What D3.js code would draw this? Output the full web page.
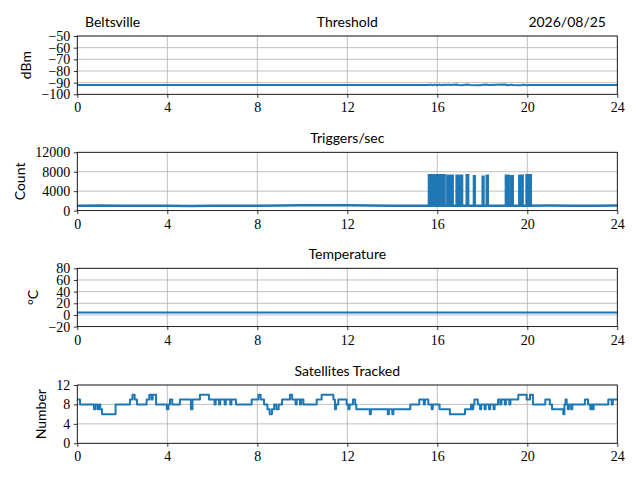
<!DOCTYPE html>
<html>
<head>
<meta charset="utf-8">
<script src="https://cdn.jsdelivr.net/npm/d3@7"></script>
<style>
body{margin:0;background:#fff}
svg{display:block}
.ttl{font-family:Lato,"Open Sans",sans-serif;font-size:14px;fill:#000}
</style>
</head>
<body>
<div id="chart"></div>
<script>
var site = "Beltsville";
var day = "2026/08/25";
var hourTicks = [0, 4, 8, 12, 16, 20, 24];

// threshold (dBm)
var threshHours = [0, 15.6, 15.7, 15.8, 15.9, 16.0, 16.1, 16.2, 16.3, 16.35, 16.5, 16.55, 16.9, 16.95, 17.1, 17.15, 17.4, 17.45, 17.9, 17.95, 18.2, 18.25, 19.05, 19.1, 19.3, 19.35, 19.75, 19.8, 20.0, 20.1, 24];
var threshDbm = [-92, -92, -91.7, -92.3, -91.7, -92.3, -91.7, -92.3, -91.7, -92, -91.7, -92, -91.7, -92, -92.3, -92, -91.7, -92, -92.3, -92, -91.7, -92, -91.7, -92.3, -91.7, -92, -92.3, -91.7, -92.3, -92, -92];

// triggers per second, quiet level
var trigHours = [0, 1, 2, 3, 4, 5, 6, 7, 8, 9, 10, 11, 12, 13, 14, 15, 16, 17, 18, 19, 20, 21, 22, 23, 24];
var trigCount = [1000, 1050, 980, 1020, 1000, 960, 1010, 990, 1000, 1050, 1080, 1120, 1100, 1060, 1020, 1000, 980, 1000, 990, 1010, 1000, 1030, 1000, 1020, 1050];
// bursts: start hour, end hour, peak count
var burstStart = [15.6, 16.42, 16.83, 17.28, 17.6, 17.99, 18.17, 19.02, 19.26, 19.62, 19.94];
var burstEnd   = [16.35, 16.71, 17.13, 17.4, 17.69, 18.08, 18.27, 19.2, 19.38, 19.82, 20.18];
var burstPeak  = [7400, 7300, 7300, 7400, 7200, 7100, 7300, 7300, 7200, 7300, 7400];

// temperature (C)
var tempHours = [0, 6, 12, 18, 24];
var tempC = [4, 4, 4, 4, 4];

// satellites tracked (step changes)
var satHours = [0, 0.12, 0.74, 0.8, 0.9, 0.98, 1.02, 1.1, 1.7, 2.34, 2.45, 2.55, 2.65, 3.08, 3.2, 3.3, 3.35, 3.5, 3.98, 4.05, 4.12, 4.22, 4.56, 5.05, 5.12, 5.45, 5.85,
  6.1, 6.15, 6.3, 6.35, 6.55, 6.6, 6.8, 6.85, 7.05, 7.75, 8.05, 8.15, 8.3, 8.45, 8.55, 8.65, 8.75, 8.85, 8.95, 9.1, 9.45, 9.55, 9.7, 9.75, 9.9, 9.95, 10.05,
  10.64, 10.86, 11.38, 11.45, 11.5, 11.6, 11.97, 12.05, 12.1, 12.25, 12.35, 12.4, 13.0, 13.05, 13.8, 13.85, 14.0, 14.05, 14.8, 15.2, 15.4, 15.45, 15.6,
  15.75, 15.8, 16.1, 16.56, 17.23, 17.5, 17.55, 17.6, 17.65, 17.8, 17.9, 17.95, 18.1, 18.15, 18.3, 18.35, 18.5, 18.55, 18.7, 18.8, 18.85, 19.0, 19.05,
  19.2, 19.25, 19.6, 19.97, 20.12, 20.25, 20.8, 21.0, 21.1, 21.6, 21.65, 21.7, 21.75, 21.8, 21.85, 21.95, 22.0, 22.56, 22.7, 22.8, 22.85, 22.9, 22.95,
  23.6, 23.75, 23.8, 24];
var satCount = [9, 8, 7, 8, 7, 8, 7, 6, 8, 9, 10, 9, 8, 9, 10, 9, 10, 8, 7, 8, 9, 8, 9, 7, 9, 10, 9,
  8, 9, 8, 9, 8, 9, 8, 9, 8, 9, 10, 9, 8, 7, 6, 7, 8, 7, 8, 9, 10, 9, 8, 9, 8, 9, 8,
  9, 10, 9, 7, 8, 9, 8, 7, 8, 9, 8, 7, 6, 7, 6, 7, 6, 7, 8, 9, 8, 9, 8,
  7, 8, 7, 6, 7, 8, 7, 8, 9, 8, 7, 8, 7, 8, 7, 8, 7, 8, 9, 8, 9, 8, 9,
  8, 9, 10, 9, 10, 8, 9, 8, 7, 6, 8, 9, 8, 7, 8, 7, 8, 9, 8, 7, 8, 7, 8,
  9, 8, 9, 9];

var W = 640, H = 480;
var left = 77.3, right = 617.3, panelH = 58.3;
var tops = [36, 152.3, 268.3, 385];
var blue = "#1f77b4";
var serif = "'Liberation Serif', 'DejaVu Serif', serif";

var svg = d3.select("#chart").append("svg").attr("width", W).attr("height", H);
var x = d3.scaleLinear().domain([0, 24]).range([left, right]);

var panels = [
  {title: "Threshold", label: "dBm", domain: [-100, -50], ticks: [-100, -90, -80, -70, -60, -50]},
  {title: "Triggers/sec", label: "Count", domain: [0, 12000], ticks: [0, 4000, 8000, 12000]},
  {title: "Temperature", label: "\u00B0C", domain: [-20, 80], ticks: [-20, 0, 20, 40, 60, 80]},
  {title: "Satellites Tracked", label: "Number", domain: [0, 12], ticks: [0, 4, 8, 12]}
];

var ys = [];
panels.forEach(function(p, i) {
  var top = tops[i];
  var y = d3.scaleLinear().domain(p.domain).range([top + panelH, top]);
  ys.push(y);
  var g = svg.append("g").attr("class", "panel" + i);

  // grid
  g.selectAll(".vg").data(hourTicks).enter().append("line")
    .attr("x1", function(d) { return x(d); }).attr("x2", function(d) { return x(d); })
    .attr("y1", top).attr("y2", top + panelH)
    .attr("stroke", "#b0b0b0").attr("stroke-width", 0.8);
  g.selectAll(".hg").data(p.ticks).enter().append("line")
    .attr("x1", left).attr("x2", right)
    .attr("y1", function(d) { return y(d); }).attr("y2", function(d) { return y(d); })
    .attr("stroke", "#b0b0b0").attr("stroke-width", 0.8);

  // axes
  var xa = g.append("g").attr("transform", "translate(0," + (top + panelH) + ")")
    .call(d3.axisBottom(x).tickValues(hourTicks).tickSize(3.5).tickPadding(3.5).tickFormat(d3.format("d")));
  var ya = g.append("g").attr("transform", "translate(" + left + ",0)")
    .call(d3.axisLeft(y).tickValues(p.ticks).tickSize(3.5).tickPadding(3.5).tickFormat(d3.format("d")));
  [xa, ya].forEach(function(a) {
    a.attr("font-family", serif).attr("font-size", 14);
    a.select(".domain").remove();
    a.selectAll(".tick line").attr("stroke", "#000").attr("stroke-width", 0.8);
    a.selectAll(".tick text").attr("font-family", serif).attr("font-size", 14).attr("fill", "#000");
  });
  xa.selectAll(".tick text").attr("dy", "0.8em");

  // title
  g.append("text").attr("class", "ttl").attr("x", (left + right) / 2).attr("y", top - 9)
    .attr("text-anchor", "middle").text(p.title);

  // y label left of tick labels
  var bb = ya.node().getBBox();
  g.append("text").attr("class", "ttl")
    .attr("transform", "translate(" + (left + bb.x - 10) + "," + (top + panelH / 2) + ") rotate(-90)")
    .attr("text-anchor", "middle").text(p.label);
});

svg.append("text").attr("class", "ttl").attr("x", 85).attr("y", tops[0] - 9).text(site);
svg.append("text").attr("class", "ttl").attr("x", 606).attr("y", tops[0] - 9)
  .attr("text-anchor", "end").text(day);

function drawLine(xs, vs, y, curve, w) {
  var line = d3.line().x(function(d) { return x(d[0]); }).y(function(d) { return y(d[1]); }).curve(curve);
  svg.append("path").datum(d3.zip(xs, vs)).attr("d", line)
    .attr("fill", "none").attr("stroke", blue).attr("stroke-width", w).attr("stroke-linejoin", "round");
}

drawLine(threshHours, threshDbm, ys[0], d3.curveLinear, 2);

// trigger bursts
var area = d3.area().x(function(d) { return x(d[0]); }).y0(ys[1](900)).y1(function(d) { return ys[1](d[1]); });
burstStart.forEach(function(s, i) {
  svg.append("path").datum([[s, burstPeak[i]], [burstEnd[i], burstPeak[i]]]).attr("d", area)
    .attr("fill", blue).attr("stroke", blue).attr("stroke-width", 1.2);
});
drawLine(trigHours, trigCount, ys[1], d3.curveLinear, 2.5);

drawLine(tempHours, tempC, ys[2], d3.curveLinear, 2);
drawLine(satHours, satCount, ys[3], d3.curveStepAfter, 2);

// spines
tops.forEach(function(t) {
  svg.append("rect").attr("x", left).attr("y", t).attr("width", right - left).attr("height", panelH)
    .attr("fill", "none").attr("stroke", "#000").attr("stroke-width", 0.8);
});
</script>
</body>
</html>
